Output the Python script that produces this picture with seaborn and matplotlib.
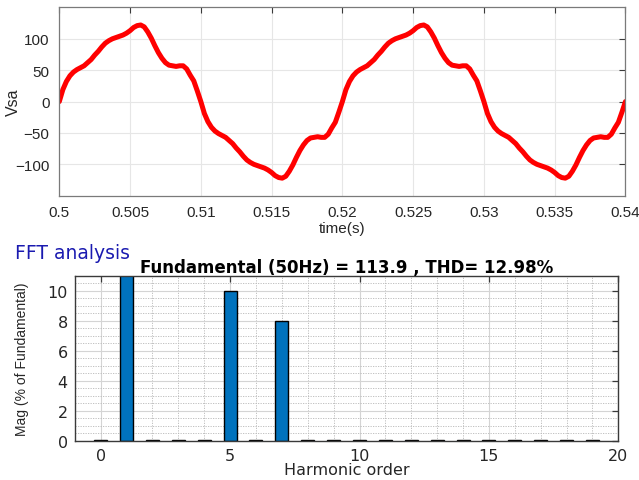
import numpy as np
import matplotlib
matplotlib.use("Agg")
import matplotlib.pyplot as plt
import seaborn as sns
from matplotlib.ticker import MultipleLocator

# ---------------- data ----------------
# waveform Vsa, sampled every 0.25 ms from 0.5 s to 0.54 s (read from picture)
time_start = 0.5
time_step = 0.00025
vsa = [
    0, 19, 32, 41, 47, 51, 54, 57, 62, 67, 74, 80, 87, 93, 97, 100, 102, 104, 106, 109,
    113, 118, 121, 122, 119, 111, 101, 89, 78, 69, 62, 58, 57, 56, 57, 57, 52, 42, 33, 17,
    0, -19, -32, -41, -47, -51, -54, -57, -62, -67, -74, -80, -87, -93, -97, -100, -102, -104, -106, -109,
    -113, -118, -121, -122, -119, -111, -101, -89, -78, -69, -62, -58, -57, -56, -57, -57, -52, -42, -33, -17,
    0, 19, 32, 41, 47, 51, 54, 57, 62, 67, 74, 80, 87, 93, 97, 100, 102, 104, 106, 109,
    113, 118, 121, 122, 119, 111, 101, 89, 78, 69, 62, 58, 57, 56, 57, 57, 52, 42, 33, 17,
    0, -19, -32, -41, -47, -51, -54, -57, -62, -67, -74, -80, -87, -93, -97, -100, -102, -104, -106, -109,
    -113, -118, -121, -122, -119, -111, -101, -89, -78, -69, -62, -58, -57, -56, -57, -57, -52, -42, -33, -17,
    0,
]
time_s = time_start + time_step * np.arange(len(vsa))

# FFT spectrum (% of fundamental)
harmonic_order = list(range(20))
magnitude = [0.05, 100, 0.05, 0.05, 0.05, 10.0, 0.05, 8.0, 0.05, 0.05,
             0.05, 0.05, 0.05, 0.05, 0.05, 0.05, 0.05, 0.05, 0.05, 0.05]

x1_ticks = [0.5, 0.505, 0.51, 0.515, 0.52, 0.525, 0.53, 0.535, 0.54]
x1_labels = ["0.5", "0.505", "0.51", "0.515", "0.52", "0.525", "0.53", "0.535", "0.54"]
y1_ticks = [-100, -50, 0, 50, 100]
x2_ticks = [0, 5, 10, 15, 20]
y2_ticks = [0, 2, 4, 6, 8, 10]

title_text = "Fundamental (50Hz) = 113.9 , THD= 12.98%"

# ---------------- style ----------------
sns.set_style("white")
plt.rcParams["font.family"] = ["Liberation Sans", "DejaVu Sans"]

fig = plt.figure(figsize=(6.39, 4.81), dpi=100)

axis_col = "#3a3a3a"
text_col = "#262626"

# ---------------- top panel ----------------
ax1 = fig.add_axes([0.0928, 0.591, 0.886, 0.3915])
sns.lineplot(x=time_s, y=vsa, color="#ff0000", linewidth=3.6, ax=ax1)
ax1.set_xlim(0.5, 0.54)
ax1.set_ylim(-150, 150)
ax1.set_xticks(x1_ticks)
ax1.set_xticklabels(x1_labels)
ax1.set_yticks(y1_ticks)
ax1.grid(True, color="#e6e6e6", linewidth=0.8)
ax1.set_axisbelow(True)
ax1.tick_params(direction="in", length=4, top=True, right=True, colors=axis_col,
                labelcolor=text_col, labelsize=11, pad=7, width=0.8)
for s in ax1.spines.values():
    s.set_color("#7a7a7a")
    s.set_linewidth(0.9)
ax1.set_xlabel("time(s)", fontsize=11, color=text_col)
ax1.xaxis.set_label_coords(0.5, -0.135)
ax1.set_ylabel("Vsa", fontsize=11.5, color=text_col)
ax1.yaxis.set_label_coords(-0.068, 0.5)

# ---------------- bottom panel ----------------
ax2 = fig.add_axes([0.117, 0.0811, 0.8507, 0.3437])
sns.barplot(x=harmonic_order, y=magnitude, native_scale=True, width=0.5,
            color="#0072BD", saturation=1, edgecolor="black", linewidth=1.0,
            errorbar=None, ax=ax2)
ax2.set_xlim(-1, 20)
ax2.set_ylim(0, 11)
ax2.set_xticks(x2_ticks)
ax2.set_xticklabels([str(v) for v in x2_ticks])
ax2.set_yticks(y2_ticks)
ax2.set_yticklabels([str(v) for v in y2_ticks])
ax2.xaxis.set_minor_locator(MultipleLocator(1))
ax2.yaxis.set_minor_locator(MultipleLocator(0.5))
ax2.grid(True, which="major", color="#d4d4d4", linewidth=0.8, linestyle="-")
ax2.grid(True, which="minor", color="#b8b8b8", linewidth=0.6, linestyle=(0, (1.5, 1.5)))
ax2.set_axisbelow(True)
ax2.tick_params(which="major", direction="in", length=4, top=True, right=True,
                colors=axis_col, labelcolor=text_col, labelsize=11.5, pad=5, width=0.9)
ax2.tick_params(which="minor", length=0, top=True, right=True)
for lab in ax2.get_xticklabels() + ax2.get_yticklabels():
    lab.set_fontfamily(["DejaVu Sans"])
for s in ax2.spines.values():
    s.set_color("#3a3a3a")
    s.set_linewidth(1.0)
ax2.set_xlabel("Harmonic order", fontsize=11.5, color=text_col, fontfamily=["DejaVu Sans"])
ax2.xaxis.set_label_coords(0.5, -0.128)
ax2.set_ylabel("Mag (% of Fundamental)", fontsize=10, color=text_col)
ax2.yaxis.set_label_coords(-0.085, 0.5)
ax2.set_title(title_text, fontsize=12, fontweight="bold", color="black",
              fontfamily=["DejaVu Sans"], pad=3)

fig.text(0.023, 0.474, "FFT analysis", color="#1a1ab0", fontsize=13.5,
         fontfamily=["DejaVu Sans"], ha="left", va="center")

fig.savefig("out.png", dpi=100)
